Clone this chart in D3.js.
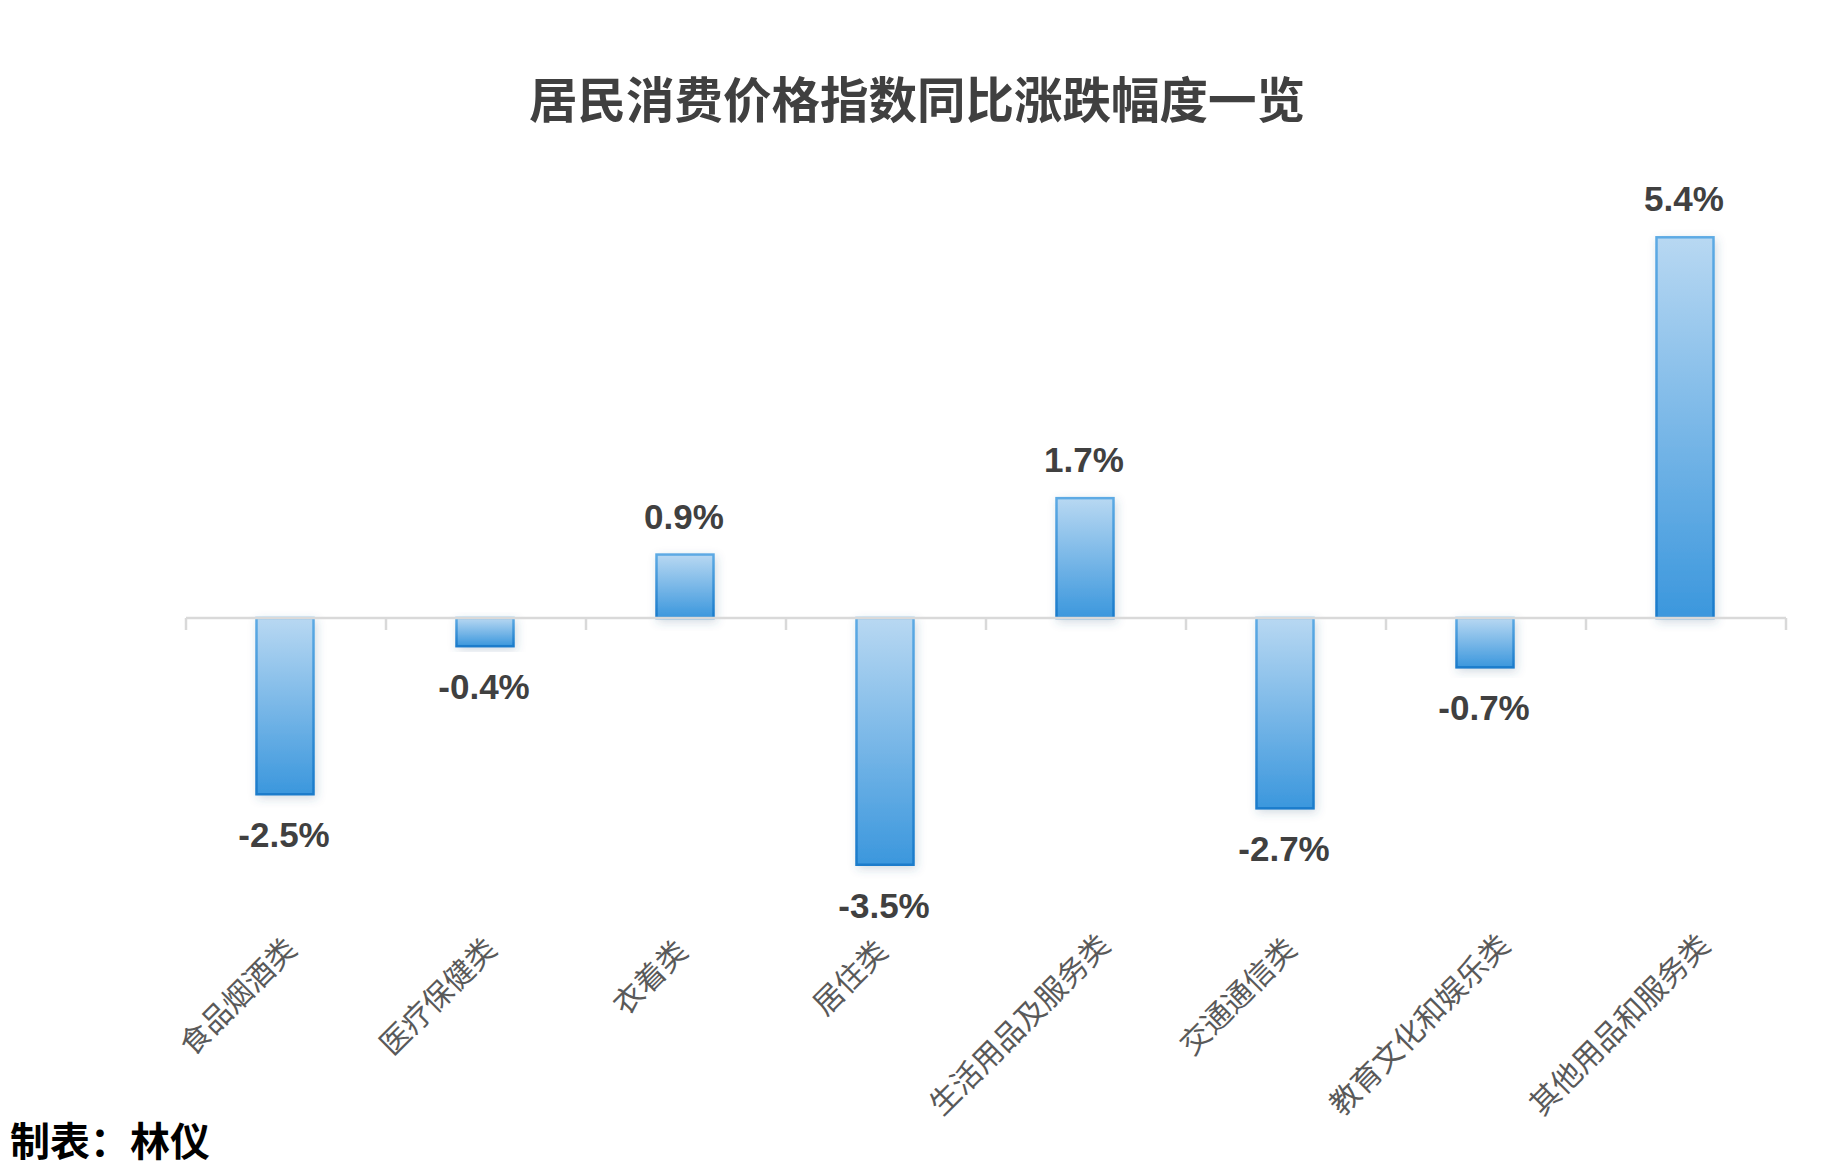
<!DOCTYPE html>
<meta charset="utf-8">
<script src="https://d3js.org/d3.v7.min.js"></script>
<style>
  body { margin: 0; background: #fff; }
</style>
<div id="chart"></div>
<script>

// data
var categories = ["食品烟酒类", "医疗保健类", "衣着类", "居住类", "生活用品及服务类", "交通通信类", "教育文化和娱乐类", "其他用品和服务类"];
var values = [-2.5, -0.4, 0.9, -3.5, 1.7, -2.7, -0.7, 5.4];
var valueLabels = ["-2.5%", "-0.4%", "0.9%", "-3.5%", "1.7%", "-2.7%", "-0.7%", "5.4%"];

var title = "居民消费价格指数同比涨跌幅度一览";
var footer = "制表：林仪";

var width = 1829, height = 1169;
var axisY = 618;
var perUnit = 70.5;

var svg = d3.select("#chart")
  .append("svg")
    .attr("width", width)
    .attr("height", height);

svg.append("rect").attr("width", width).attr("height", height).attr("fill", "#fff");

var defs = svg.append("defs");

var grad = defs.append("linearGradient")
  .attr("id", "barFill").attr("x1", 0).attr("y1", 0).attr("x2", 0).attr("y2", 1);
grad.append("stop").attr("offset", "0%").attr("stop-color", "#b8d8f2");
grad.append("stop").attr("offset", "100%").attr("stop-color", "#3b97dd");

var gradS = defs.append("linearGradient")
  .attr("id", "barStroke").attr("x1", 0).attr("y1", 0).attr("x2", 0).attr("y2", 1);
gradS.append("stop").attr("offset", "0%").attr("stop-color", "#5daae4");
gradS.append("stop").attr("offset", "100%").attr("stop-color", "#1a7bcb");

var shadow = defs.append("filter").attr("id", "shadow")
  .attr("x", "-50%").attr("y", "-20%").attr("width", "200%").attr("height", "140%");
shadow.append("feDropShadow")
  .attr("dx", 2).attr("dy", 3).attr("stdDeviation", 5)
  .attr("flood-color", "#3a5a80").attr("flood-opacity", 0.22);

// scales
var x = d3.scaleBand()
  .domain(categories)
  .range([186, 1786]);

var y = d3.scaleLinear()
  .domain([-4, 6])
  .range([axisY + 4 * perUnit, axisY - 6 * perUnit]);

var barW = x.bandwidth() * 0.285;

// title
svg.append("text")
  .attr("x", 917)
  .attr("y", 118)
  .attr("text-anchor", "middle")
  .attr("font-family", "'Noto Sans CJK SC', sans-serif")
  .attr("font-weight", 700)
  .attr("font-size", 48.5)
  .attr("fill", "#404040")
  .text(title);

// bars
svg.selectAll("rect.bar")
  .data(values)
  .enter()
  .append("rect")
    .attr("class", "bar")
    .attr("x", function(d, i) { return x(categories[i]) + x.bandwidth() / 2 - barW / 2 - 1; })
    .attr("y", function(d) { return y(Math.max(0, d)); })
    .attr("width", barW)
    .attr("height", function(d) { return Math.abs(y(d) - y(0)); })
    .attr("fill", "url(#barFill)")
    .attr("stroke", "url(#barStroke)")
    .attr("stroke-width", 2.5)
    .attr("filter", "url(#shadow)");

// category axis: line plus ticks between categories
var bounds = categories.map(function(c) { return x(c); }).concat([x.range()[1]]);
var axis = svg.append("g");
axis.append("line")
  .attr("x1", x.range()[0]).attr("x2", x.range()[1])
  .attr("y1", y(0)).attr("y2", y(0))
  .attr("stroke", "#d9d9d9").attr("stroke-width", 2.5);
axis.selectAll("line.tick")
  .data(bounds)
  .enter()
  .append("line")
    .attr("class", "tick")
    .attr("x1", function(d) { return d; }).attr("x2", function(d) { return d; })
    .attr("y1", y(0)).attr("y2", y(0) + 12)
    .attr("stroke", "#d9d9d9").attr("stroke-width", 2.5);

// value labels
svg.selectAll("text.val")
  .data(values)
  .enter()
  .append("text")
    .attr("class", "val")
    .attr("x", function(d, i) { return x(categories[i]) + x.bandwidth() / 2 - 2; })
    .attr("y", function(d) { return d >= 0 ? y(d) - 26 : y(d) + 53; })
    .attr("text-anchor", "middle")
    .attr("font-family", "'Liberation Sans', Arial, sans-serif")
    .attr("font-weight", 700)
    .attr("font-size", 35)
    .attr("fill", "#404040")
    .text(function(d, i) { return valueLabels[i]; });

// category labels, rotated
svg.selectAll("text.cat")
  .data(categories)
  .enter()
  .append("text")
    .attr("class", "cat")
    .attr("text-anchor", "end")
    .attr("font-family", "'Noto Sans CJK SC', sans-serif")
    .attr("font-size", 30)
    .attr("fill", "#595959")
    .text(function(d) { return d; })
    .attr("transform", function(d) {
      var L = this.getComputedTextLength();
      var cx = x(d) + x.bandwidth() / 2 - 10 + 0.15 * L;
      var cy = 957 - 0.04 * L;
      return "translate(" + cx + "," + cy + ") rotate(-45)";
    });

// footer
svg.append("text")
  .attr("x", 10)
  .attr("y", 1156)
  .attr("font-family", "'Noto Sans CJK SC', sans-serif")
  .attr("font-weight", 700)
  .attr("font-size", 40)
  .attr("fill", "#000")
  .text(footer);

</script>
